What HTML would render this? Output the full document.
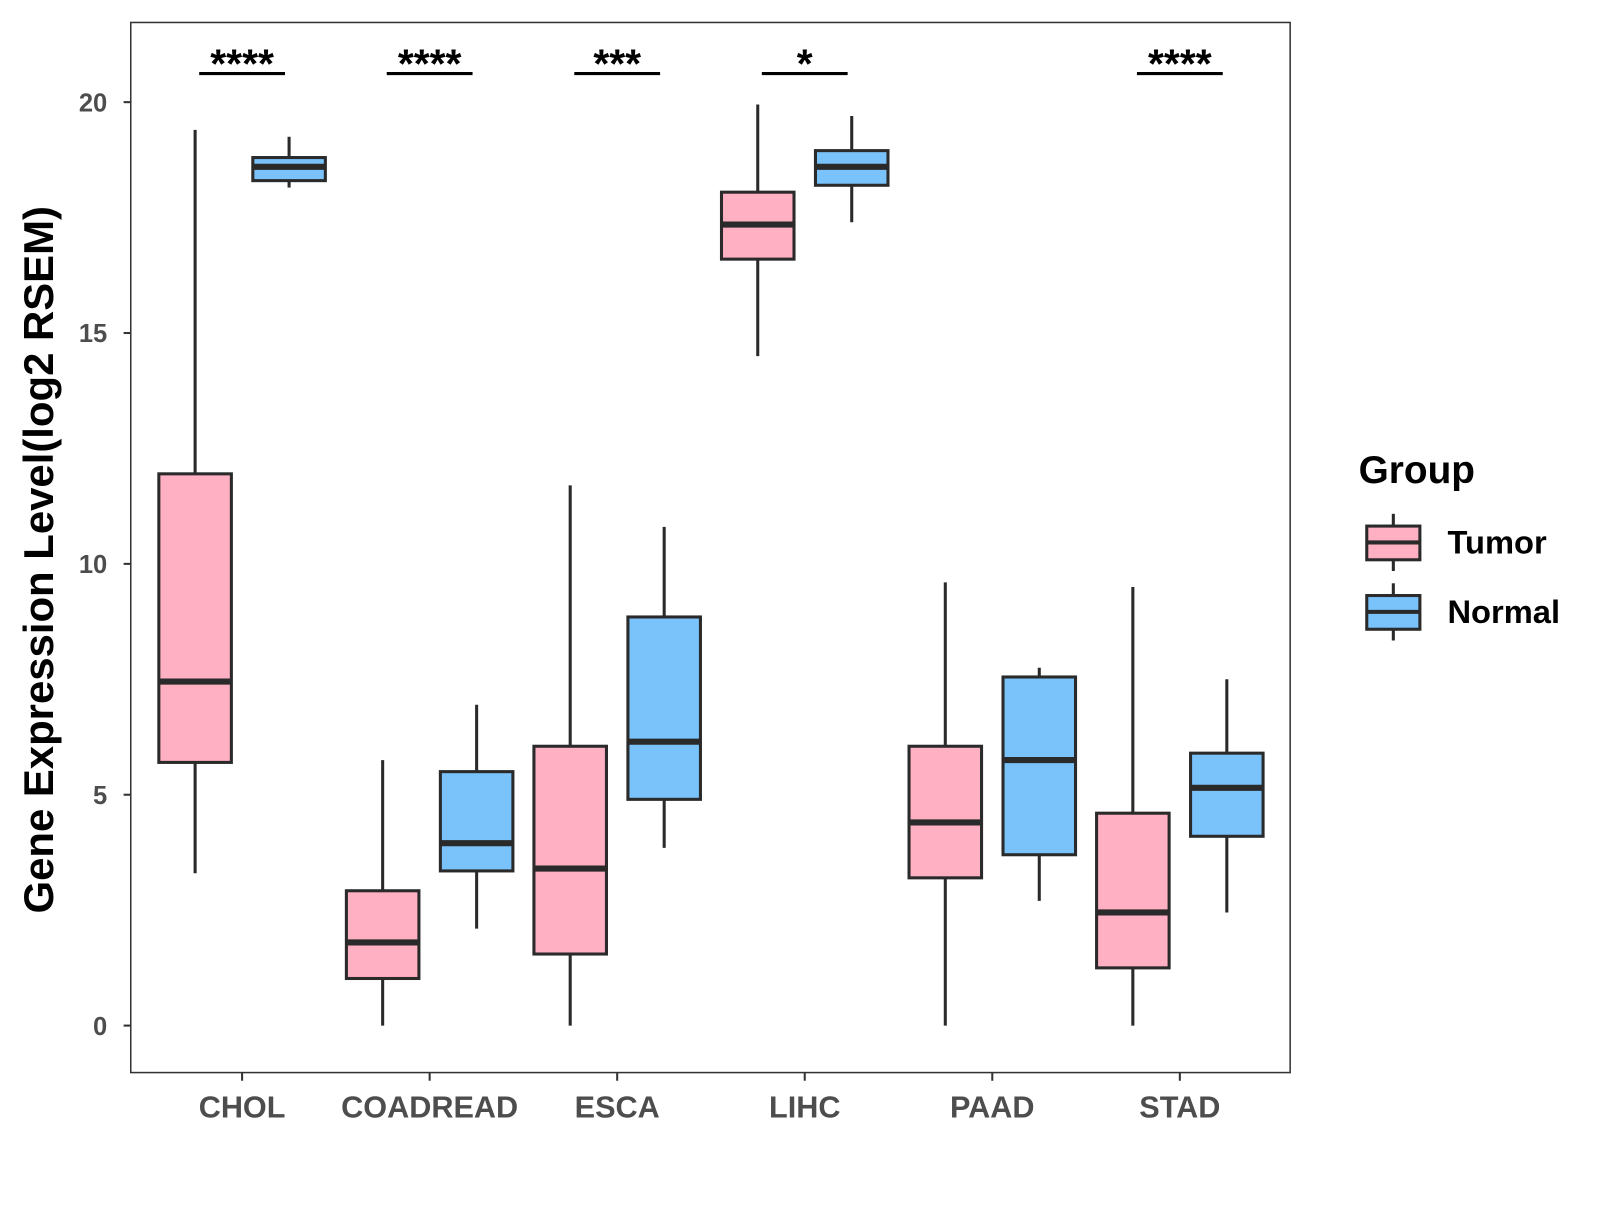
<!DOCTYPE html>
<html><head><meta charset="utf-8"><style>
body{margin:0;background:#fff}
svg text{font-family:"Liberation Sans",Arial,sans-serif;font-weight:bold}
</style></head><body>
<svg id="chart" width="1600" height="1200" viewBox="0 0 1600 1200" xmlns="http://www.w3.org/2000/svg">
<rect x="0" y="0" width="1600" height="1200" fill="#fff"/>
<g id="plot" transform="scale(1.0215)"></g>
</svg>
<script>
const categories=["CHOL","COADREAD","ESCA","LIHC","PAAD","STAD"];
// [whiskerLow, q1, median, q3, whiskerHigh]
const tumor=[[3.3,5.7,7.45,11.95,19.4],[0,1.02,1.8,2.92,5.75],[0,1.55,3.4,6.05,11.7],[14.5,16.6,17.35,18.05,19.95],[0,3.2,4.4,6.05,9.6],[0,1.25,2.45,4.6,9.5]];
const normal=[[18.15,18.3,18.6,18.8,19.25],[2.1,3.35,3.95,5.5,6.95],[3.85,4.9,6.15,8.85,10.8],[17.4,18.2,18.6,18.95,19.7],[2.7,3.7,5.75,7.55,7.75],[2.45,4.1,5.15,5.9,7.5]];
const signif=["****","****","***","*","","****"];
const yTicks=[0,5,10,15,20];
const NS="http://www.w3.org/2000/svg";
const g=document.getElementById('plot');
const y=v=>1004-v*45.2;
const x=i=>237+i*183.6;
function mk(t,a,txt){const e=document.createElementNS(NS,t);for(const k in a)e.setAttribute(k,a[k]);if(txt!==undefined)e.textContent=txt;g.appendChild(e);return e;}
let e=mk('rect',{x:128,y:22,width:1135,height:1028,fill:'none',stroke:'#333','stroke-width':1.5});

yTicks.forEach(t=>{
 let l=mk('line',{x1:121,x2:128,y1:y(t),y2:y(t),stroke:'#333','stroke-width':2});
 
 let tx=mk('text',{x:105,y:y(t)+9,'text-anchor':'end','font-size':25,fill:'#4d4d4d'},t);
 
});
function box(cx,d,fill,name){
 const w=71;
 let a=mk('line',{x1:cx,x2:cx,y1:y(d[0]),y2:y(d[4]),stroke:'#2a2a2a','stroke-width':3});
 
 let r=mk('rect',{x:cx-w/2,y:y(d[3]),width:w,height:y(d[1])-y(d[3]),fill:fill,stroke:'#2a2a2a','stroke-width':3});
 
 let m=mk('line',{x1:cx-w/2,x2:cx+w/2,y1:y(d[2]),y2:y(d[2]),stroke:'#2a2a2a','stroke-width':6});
 
}
categories.forEach((c,i)=>{
 box(x(i)-46,tumor[i],'#FFB0C2','tumor-'+c.toLowerCase());
 box(x(i)+46,normal[i],'#7AC3FA','normal-'+c.toLowerCase());
 let t=mk('line',{x1:x(i),x2:x(i),y1:1050,y2:1058,stroke:'#333','stroke-width':2});
 
 let l=mk('text',{x:x(i),y:1094,'text-anchor':'middle','font-size':30,fill:'#4d4d4d'},c);
 
 if(signif[i]){
  let s=mk('line',{x1:x(i)-42,x2:x(i)+42,y1:72,y2:72,stroke:'#000','stroke-width':3});
  
  let st=mk('text',{x:x(i),y:76,'text-anchor':'middle','font-size':40,fill:'#000'},signif[i]);
  
 }
});
let yt=mk('text',{x:0,y:0,transform:'translate(52,548) rotate(-90)','text-anchor':'middle','font-size':41,fill:'#000'},'Gene Expression Level(log2 RSEM)');

let lg=mk('text',{x:1330,y:473,'font-size':38,fill:'#000'},'Group');

[['Tumor','#FFB0C2',531],['Normal','#7AC3FA',599]].forEach(([n,f,cy])=>{
 let v=mk('line',{x1:1364,x2:1364,y1:cy-28,y2:cy+28,stroke:'#2a2a2a','stroke-width':3});
 
 let r=mk('rect',{x:1338,y:cy-16,width:52,height:33,fill:f,stroke:'#2a2a2a','stroke-width':3});
 
 let m=mk('line',{x1:1338,x2:1390,y1:cy,y2:cy,stroke:'#2a2a2a','stroke-width':4});
 
 let t=mk('text',{x:1417,y:cy+11,'font-size':32,fill:'#000'},n);
 
});
</script>
</body></html>
